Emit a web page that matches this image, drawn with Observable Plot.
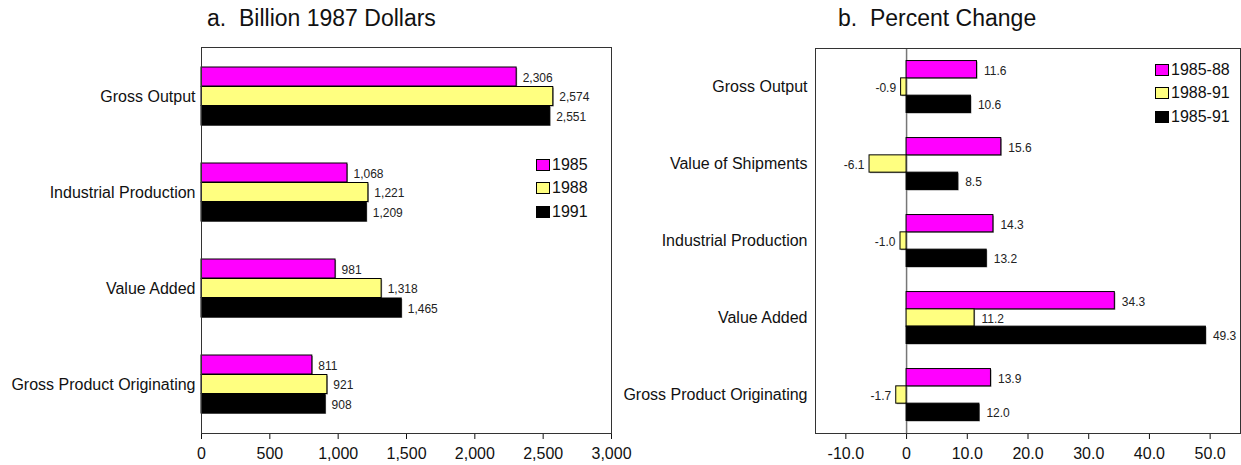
<!DOCTYPE html>
<html>
<head>
<meta charset="utf-8">
<script src="https://cdn.jsdelivr.net/npm/d3@7"></script>
<script src="https://cdn.jsdelivr.net/npm/@observablehq/plot@0.6"></script>
<style>
  html, body { margin: 0; padding: 0; background: white; }
  #wrap { position: relative; width: 1241px; height: 465px; overflow: hidden; font-family: "Liberation Sans", Arial, sans-serif; color: #111; }
  .panel { position: absolute; top: 0; }
  .title { position: absolute; top: 7px; font-size: 23px; white-space: pre; line-height: 1; }
  .legend { position: absolute; font-size: 16px; line-height: 1; }
  .legend .row { display: flex; align-items: center; height: 23.5px; }
  .legend .sw { display: inline-block; width: 12px; height: 10px; border: 1px solid #000; margin-right: 2px; box-sizing: content-box; }
</style>
</head>
<body>
<div id="wrap">
  <div class="panel" id="left"></div>
  <div class="panel" id="right" style="left:620px"></div>
  <div class="title" style="left:207px">a.  Billion 1987 Dollars</div>
  <div class="title" style="left:838px">b.  Percent Change</div>
  <div class="legend" id="legLeft" style="left:536px; top:153px"></div>
  <div class="legend" id="legRight" style="left:1155px; top:58px"></div>
</div>
<script>
// ---- Data: panel a (Billion 1987 Dollars)
const leftCategories = ["Gross Output", "Industrial Production", "Value Added", "Gross Product Originating"];
const leftSeries = ["1985", "1988", "1991"];
const values1985 = [2306, 1068, 981, 811];
const values1988 = [2574, 1221, 1318, 921];
const values1991 = [2551, 1209, 1465, 908];
const leftTicks = [0, 500, 1000, 1500, 2000, 2500, 3000];

// ---- Data: panel b (Percent Change)
const rightCategories = ["Gross Output", "Value of Shipments", "Industrial Production", "Value Added", "Gross Product Originating"];
const rightSeries = ["1985-88", "1988-91", "1985-91"];
const pct8588 = [11.6, 15.6, 14.3, 34.3, 13.9];
const pct8891 = [-0.9, -6.1, -1.0, 11.2, -1.7];
const pct8591 = [10.6, 8.5, 13.2, 49.3, 12.0];
const rightTicks = [-10, 0, 10, 20, 30, 40, 50];

const seriesColors = ["#FF00FF", "#FFFF80", "#000000"];

const locale = d3.formatLocale({decimal: ".", thousands: ",", grouping: [3], currency: ["$", ""], minus: "-"});
const fComma = locale.format(",");
const f1 = locale.format(".1f");

function rows(cats, vals) { return cats.map((c, i) => ({cat: c, value: vals[i]})); }

function groupedMarks(cats, seriesVals, band, barH, fmt, labelDx) {
  const marks = [];
  const groupTop = (band - barH * seriesVals.length) / 2;
  seriesVals.forEach((vals, k) => {
    const data = rows(cats, vals);
    const insetTop = groupTop + k * barH;
    const insetBottom = band - insetTop - barH;
    const dy = (insetTop + barH / 2) - band / 2;
    marks.push(Plot.barX(data, {x: "value", y: "cat", insetTop, insetBottom, fill: "#8a8a8a", dx: 1, dy: 1}));
    marks.push(Plot.barX(data, {x: "value", y: "cat", insetTop, insetBottom, fill: seriesColors[k], stroke: "#000", strokeWidth: 1}));
    marks.push(Plot.text(data.filter(d => d.value >= 0), {x: "value", y: "cat", text: d => fmt(d.value), dx: labelDx, dy: dy + 1, textAnchor: "start", fontSize: 12, fill: "#222"}));
    marks.push(Plot.text(data.filter(d => d.value < 0), {x: "value", y: "cat", text: d => fmt(d.value), dx: -5, dy: dy + 1, textAnchor: "end", fontSize: 12, fill: "#222"}));
  });
  return marks;
}

const baseStyle = {fontFamily: "'Liberation Sans', Arial, sans-serif", fontSize: "16px", color: "#111", background: "transparent", overflow: "visible"};

// Panel a
const lTop = 47, lBottom = 32, lH = 465;
const lBand = (lH - lTop - lBottom) / leftCategories.length;
const leftPlot = Plot.plot({
  width: 620, height: lH,
  marginLeft: 201, marginRight: 9, marginTop: lTop, marginBottom: lBottom,
  style: baseStyle,
  x: {domain: [0, 3000], ticks: leftTicks, tickFormat: fComma, tickSize: 6, tickPadding: 8, label: null},
  y: {domain: leftCategories, padding: 0, tickSize: 0, tickPadding: 6, label: null},
  marks: [
    ...groupedMarks(leftCategories, [values1985, values1988, values1991], lBand, 19.5, fComma, 6),
    Plot.frame({stroke: "#333"})
  ]
});
document.getElementById("left").appendChild(leftPlot);

// Panel b
const rTop = 48, rBottom = 32, rH = 465;
const rBand = (rH - rTop - rBottom) / rightCategories.length;
const rightPlot = Plot.plot({
  width: 621, height: rH,
  marginLeft: 195, marginRight: 1, marginTop: rTop, marginBottom: rBottom,
  style: baseStyle,
  x: {domain: [-15, 55], ticks: rightTicks, tickFormat: d => d === 0 ? "0" : f1(d), tickSize: 6, tickPadding: 8, label: null},
  y: {domain: rightCategories, padding: 0, tickSize: 0, tickPadding: 8, label: null},
  marks: [
    Plot.ruleX([0], {stroke: "#777", strokeWidth: 1.5}),
    ...groupedMarks(rightCategories, [pct8588, pct8891, pct8591], rBand, 17.3, f1, 7),
    Plot.frame({stroke: "#333"})
  ]
});
document.getElementById("right").appendChild(rightPlot);

// Legends
function legend(id, labels) {
  const el = document.getElementById(id);
  labels.forEach((lab, k) => {
    const row = document.createElement("div");
    row.className = "row";
    const sw = document.createElement("span");
    sw.className = "sw";
    sw.style.background = seriesColors[k];
    row.appendChild(sw);
    row.appendChild(document.createTextNode(lab));
    el.appendChild(row);
  });
}
legend("legLeft", leftSeries);
legend("legRight", rightSeries);
</script>
</body>
</html>
